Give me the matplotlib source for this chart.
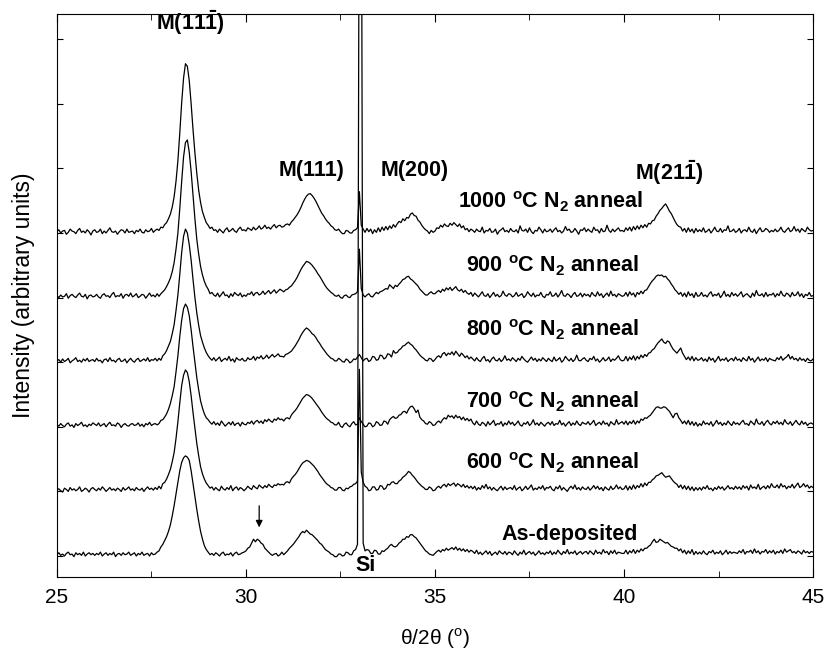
import numpy as np
import matplotlib
matplotlib.use("Agg")
import matplotlib.pyplot as plt
from matplotlib.ticker import MultipleLocator

plt.rcParams['font.family'] = ['Liberation Sans', 'DejaVu Sans']
plt.rcParams['mathtext.fontset'] = 'custom'
plt.rcParams['mathtext.rm'] = 'Liberation Sans'
plt.rcParams['mathtext.bf'] = 'Liberation Sans:bold'

# intensities, 0.05 deg steps from 25 to 45,
# one row per degree, counts above each trace's own baseline
as_dep = [
    2, 5, 1, 3, 0, 4, 6, 2, 3, -1, 5, 2, 4, 1, 6, 0, 3, 5, 2, 4,
    1, 4, 2, 6, 0, 3, 5, 1, 4, 2, 6, -1, 3, 4, 1, 5, 2, 3, 6, 1,
    3, 5, 0, 4, 2, 6, 1, 3, 4, 0, 5, 2, 3, 6, 8, 14, 18, 24, 30, 38,
    48, 62, 78, 96, 115, 132, 145, 152, 155, 153, 148, 132, 112, 92, 72, 54, 38, 26, 16, 10,
    6, 2, 4, 1, 5, 3, 0, 4, 6, 1, 3, 2, 5, 0, 4, 6, 2, 3, 5, 6,
    8, 12, 14, 20, 26, 22, 26, 24, 20, 18, 12, 9, 6, 3, 1, 3, 4, 0, 2, 6,
    2, 5, 8, 12, 15, 18, 22, 26, 30, 35, 38, 36, 40, 37, 34, 33, 30, 27, 24, 20,
    18, 14, 10, 8, 6, 3, 2, -1, -1, 3, 3, 0, 1, 6, 5, 2, 2, 8, 10, 18,
    1200, 1200, 20, 8, 10, 9, 4, 4, 9, 8, 3, 3, 8, 7, 10, 12, 16, 18, 15, 14,
    16, 20, 22, 26, 26, 30, 29, 33, 33, 30, 28, 24, 20, 16, 12, 8, 6, 3, 2, 1,
    4, 7, 9, 6, 10, 8, 12, 9, 11, 13, 10, 14, 9, 12, 8, 11, 7, 10, 6, 9,
    7, 4, 9, 3, 6, 2, 5, 8, 3, 7, 1, 4, 6, 2, 8, 5, 3, 7, 2, 6,
    5, 2, 8, 4, 1, 6, 3, 9, 2, 5, 7, 3, 6, 1, 4, 8, 3, 5, 2, 6,
    4, 8, 2, 6, 3, 9, 5, 2, 7, 4, 10, 3, 6, 4, 8, 2, 5, 7, 3, 6,
    7, 3, 8, 5, 2, 9, 4, 6, 3, 10, 5, 7, 2, 8, 4, 9, 3, 6, 5, 4,
    4, 9, 3, 8, 5, 10, 4, 9, 6, 11, 8, 12, 12, 15, 17, 22, 26, 21, 22, 26,
    24, 22, 20, 21, 18, 15, 14, 12, 12, 8, 11, 5, 9, 3, 8, 4, 10, 2, 7, 3,
    6, 3, 8, 4, 2, 7, 5, 9, 3, 6, 4, 8, 2, 5, 9, 3, 7, 4, 6, 5,
    4, 8, 5, 10, 3, 7, 6, 9, 4, 11, 5, 8, 3, 7, 6, 10, 4, 8, 5, 9,
    3, 7, 5, 9, 4, 11, 6, 8, 10, 5, 7, 4, 8, 6, 3, 9, 5, 7, 4, 7,
    6]

t600 = [
    2, 4, 1, -1, 5, 3, 0, 6, 2, 4, 1, 3, 7, 0, 2, 5, 3, -1, 4, 6,
    3, 1, 5, 2, 7, 4, 0, 3, 6, 2, 4, 1, 5, 3, 0, 6, 2, 4, 7, 2,
    4, 1, 6, 3, 2, 5, 0, 4, 7, 3, 5, 2, 6, 3, 8, 4, 12, 14, 19, 26,
    34, 46, 60, 82, 108, 137, 164, 180, 188, 184, 170, 148, 122, 98, 74, 55, 38, 27, 19, 13,
    9, 5, 7, 2, 6, 3, 1, 8, 4, 2, 6, 3, 9, 1, 5, 7, 2, 6, 4, 1,
    4, 8, 5, 3, 9, 6, 4, 10, 7, 5, 9, 6, 11, 8, 6, 10, 9, 12, 10, 11,
    10, 14, 15, 13, 19, 23, 26, 30, 35, 40, 44, 46, 48, 47, 45, 42, 39, 35, 31, 26,
    22, 18, 14, 11, 9, 6, 5, 2, 2, 6, 6, 2, 1, 5, 4, 7, 8, 11, 12, 16,
    189, 30, 14, 8, 6, 1, 2, 7, 7, 2, 3, 9, 8, 3, 5, 11, 10, 14, 15, 12,
    12, 16, 18, 22, 24, 27, 31, 29, 25, 22, 18, 14, 11, 8, 6, 3, 3, 7, 5, 1,
    2, 6, 8, 5, 9, 11, 7, 12, 9, 11, 13, 8, 12, 10, 7, 11, 6, 9, 5, 8,
    4, 8, 2, 6, 3, 9, 5, 11, 4, 7, 2, 6, 3, 1, 5, 8, 2, 7, 3, 5,
    6, 3, 9, 2, 5, 7, 1, 4, 8, 3, 6, 10, 2, 5, 3, 7, 4, 9, 2, 6,
    5, 8, 3, 1, 7, 4, 9, 2, 6, 3, 0, 5, 8, 4, 10, 3, 6, 2, 7, 4,
    3, 7, 2, 5, 9, 4, 8, 3, 6, 1, 7, 4, 2, 8, 3, 5, 10, 4, 7, 3,
    4, 9, 2, 8, 3, 10, 4, 9, 6, 12, 7, 13, 9, 14, 14, 18, 20, 24, 25, 27,
    29, 25, 22, 23, 24, 20, 16, 13, 11, 6, 10, 4, 9, 3, 8, 2, 7, 1, 6, 2,
    6, 2, 7, 4, 9, 3, 5, 1, 6, 3, 8, 4, 7, 2, 5, 9, 4, 6, 3, 8,
    4, 7, 3, 9, 5, 8, 2, 10, 5, 7, 4, 11, 3, 6, 8, 4, 9, 5, 12, 7,
    6, 10, 5, 12, 7, 9, 4, 8, 6, 11, 5, 9, 13, 6, 8, 12, 7, 10, 5, 8,
    6]

t700 = [
    3, 1, 5, 2, 0, 4, 6, 1, 3, -1, 5, 2, 4, 7, 1, 3, 0, 4, 2, 6,
    4, 2, 6, 1, 3, 5, 0, 4, 7, 2, 3, 1, 6, 4, -1, 3, 5, 2, 1, 4,
    5, 2, 3, 6, 1, 4, 0, 5, 3, 7, 2, 4, 5, 3, 5, 10, 11, 15, 20, 27,
    36, 48, 62, 85, 110, 140, 165, 183, 190, 185, 172, 150, 124, 100, 76, 57, 40, 29, 20, 14,
    11, 7, 4, 8, 3, 6, 2, 9, 5, 1, 4, 7, 3, 8, 2, 5, 6, 1, 7, 4,
    3, 7, 5, 9, 4, 8, 10, 6, 9, 5, 11, 8, 12, 9, 7, 12, 10, 14, 11, 12,
    9, 13, 14, 12, 18, 22, 25, 29, 34, 39, 44, 47, 50, 49, 47, 44, 40, 36, 32, 28,
    23, 19, 15, 12, 10, 7, 6, 3, 3, 7, 1, -1, 4, 6, 2, 0, 5, 8, 3, 4,
    14, 8, 4, 0, 1, 6, 5, 0, 2, 8, 6, 2, 3, 9, 8, 4, 11, 14, 16, 13,
    14, 18, 19, 23, 24, 21, 27, 31, 32, 28, 22, 26, 15, 11, 9, 5, 4, 8, 6, 2,
    3, 7, 9, 6, 11, 14, 12, 18, 15, 17, 13, 18, 14, 16, 11, 15, 10, 13, 9, 12,
    6, 3, 9, 4, 2, 7, 5, 1, 8, 3, 6, 10, 2, 5, 4, 8, 1, 6, 3, 9,
    4, 7, 2, 5, 9, 3, 1, 6, 4, 8, 2, 5, 11, 3, 6, 2, 7, 4, 1, 5,
    7, 3, 8, 2, 5, 4, 10, 3, 6, 1, 5, 8, 2, 6, 3, 9, 4, 2, 7, 5,
    4, 8, 3, 6, 10, 2, 5, 7, 3, 9, 4, 6, 1, 8, 5, 3, 11, 4, 6, 8,
    4, 9, 3, 8, 5, 10, 4, 9, 6, 12, 10, 14, 13, 16, 18, 22, 26, 30, 31, 29,
    29, 31, 30, 27, 24, 19, 14, 20, 21, 14, 10, 5, 9, 4, 10, 3, 8, 2, 7, 1,
    5, 2, 9, 4, 6, 3, 8, 1, 5, 10, 4, 7, 2, 6, 3, 9, 5, 2, 8, 4,
    6, 3, 7, 10, 4, 5, 2, 9, 6, 3, 12, 5, 4, 8, 2, 7, 10, 5, 3, 8,
    5, 9, 4, 7, 3, 11, 6, 4, 8, 2, 6, 10, 5, 3, 9, 4, 7, 2, 5, 6,
    4]

t800 = [
    2, 4, 0, 5, 1, 3, 6, -1, 2, 4, 7, 1, 3, 0, 5, 2, 6, 1, 3, 4,
    1, 6, 2, 3, -1, 4, 5, 1, 7, 2, 3, 0, 4, 6, 1, 2, 5, -1, 3, 6,
    2, 0, 4, 6, 1, 3, 5, 2, 7, 1, 4, 3, 6, 2, 6, 3, 10, 13, 18, 25,
    32, 44, 58, 80, 104, 136, 170, 195, 206, 200, 182, 158, 128, 100, 76, 57, 41, 31, 22, 15,
    10, 6, 3, 7, 2, 5, 8, 1, 4, 6, 3, 9, 2, 5, 0, 7, 4, 3, 6, 2,
    2, 7, 4, 5, 9, 3, 8, 6, 10, 5, 7, 11, 6, 9, 12, 8, 10, 13, 9, 9,
    8, 12, 13, 15, 17, 21, 25, 30, 35, 41, 46, 50, 53, 51, 48, 44, 42, 38, 33, 29,
    24, 20, 16, 12, 9, 6, 5, 2, 2, 6, 4, 1, 0, 5, 3, -1, 1, 5, 4, 8,
    12, 7, 2, 5, 6, 1, 3, 9, 8, 3, 4, 11, 10, 5, 7, 13, 12, 8, 18, 14,
    15, 19, 21, 25, 26, 29, 31, 28, 26, 22, 19, 15, 11, 8, 6, 3, 2, 6, 5, 1,
    4, 8, 10, 7, 13, 15, 10, 14, 12, 16, 11, 17, 13, 9, 14, 11, 7, 10, 5, 8,
    5, 2, 7, 3, 1, 6, 9, 2, 4, 0, 5, 8, 3, 2, 6, 1, 4, 10, 3, 5,
    2, 7, 4, 1, 6, 3, 9, 5, 2, 0, 4, 8, 3, 6, 1, 5, 2, 7, 4, 1,
    6, 3, 1, 8, 2, 4, 7, 0, 3, 9, 5, 2, 6, 1, 4, 11, 3, 2, 5, 7,
    3, 1, 6, 4, 9, 2, 5, 0, 3, 7, 2, 4, 8, 1, 5, 3, 6, 10, 4, 2,
    3, 9, 2, 8, 4, 10, 3, 9, 5, 11, 7, 12, 9, 14, 15, 19, 21, 26, 30, 33,
    36, 31, 29, 33, 31, 25, 20, 17, 14, 18, 22, 14, 9, 4, 8, 3, 9, 2, 7, 3,
    4, 7, 2, 5, 1, 8, 3, 6, 0, 4, 9, 2, 5, 3, 7, 1, 4, 6, 2, 8,
    3, 5, 1, 7, 4, 2, 9, 3, 6, 0, 4, 8, 2, 5, 3, 7, 1, 6, 4, 3,
    2, 7, 4, 9, 3, 6, 8, 12, 5, 9, 4, 6, 2, 7, 3, 5, 1, 6, 3, 2,
    5]

t900 = [
    3, 0, 4, 1, 2, 6, -1, 3, 5, 2, 0, 4, 7, 2, 1, 5, -2, 3, 4, 1,
    2, 5, 1, -1, 4, 6, 2, 3, 0, 5, 8, 1, 3, 2, 6, -1, 4, 5, 2, 7,
    1, 3, 6, 0, 2, 5, 4, -1, 3, 7, 2, 4, 1, 6, 2, 6, 9, 12, 17, 23,
    30, 40, 54, 75, 100, 138, 180, 218, 240, 244, 225, 195, 158, 122, 90, 67, 48, 35, 25, 18,
    13, 6, 8, 4, 2, 7, 1, 5, 9, 3, 4, 0, 6, 2, 8, 5, 3, 7, 1, 4,
    2, 6, 5, 9, 3, 7, 8, 4, 6, 10, 5, 8, 11, 6, 9, 12, 7, 10, 13, 11,
    9, 12, 13, 16, 18, 22, 26, 31, 37, 43, 48, 52, 56, 55, 53, 50, 46, 42, 37, 33,
    28, 23, 18, 14, 11, 8, 6, 3, 2, 4, 0, -1, 3, 4, 1, 0, 4, 5, 6, 9,
    75, 14, 4, 1, 4, 6, 2, 1, 5, 8, 6, 9, 10, 12, 14, 13, 20, 17, 14, 19,
    17, 21, 24, 28, 29, 32, 33, 29, 27, 24, 21, 18, 13, 10, 7, 4, 4, 7, 9, 6,
    6, 9, 11, 8, 13, 10, 15, 12, 16, 11, 14, 17, 12, 10, 13, 8, 11, 7, 5, 8,
    2, 7, 4, 1, 5, 9, 3, 2, 6, 0, 4, 8, 2, 5, 1, 3, 10, 4, 2, 6,
    5, 1, 3, 8, 2, 4, 6, 0, 3, 9, 5, 2, 7, 1, 4, 3, 8, 2, 0, 5,
    4, 9, 2, 3, 7, 1, 5, 11, 3, 2, 6, 4, 0, 5, 8, 2, 3, 7, 1, 6,
    3, 5, 1, 8, 4, 2, 9, 3, 6, 0, 4, 7, 2, 10, 3, 5, 1, 6, 4, 2,
    3, 8, 2, 9, 4, 7, 1, 8, 5, 10, 6, 11, 12, 17, 22, 26, 29, 33, 35, 34,
    35, 32, 33, 29, 26, 21, 17, 12, 9, 5, 8, 2, 7, 1, 9, 3, 6, 0, 8, 2,
    3, 8, 2, 4, 1, 6, 9, 2, 5, 3, 7, 0, 4, 10, 2, 5, 1, 8, 3, 6,
    2, 5, 9, 1, 4, 6, 3, 0, 7, 2, 11, 4, 3, 6, 1, 8, 2, 5, 4, 7,
    1, 6, 3, 10, 4, 2, 7, 5, 1, 8, 3, 4, 9, 2, 6, 0, 5, 3, 8, 2,
    3]

t1000 = [
    2, 5, 0, 3, 4, -2, 1, 6, 3, 2, -1, 4, 7, 1, 3, 0, 5, 2, -3, 3,
    5, 1, 2, 6, -1, 3, 0, 4, 8, 2, 1, 3, -2, 2, 5, 4, 0, 6, 1, 2,
    3, -1, 4, 2, 6, 1, 0, 5, 2, 3, 7, 1, 4, 6, 4, 9, 8, 13, 16, 22,
    29, 40, 56, 80, 112, 155, 202, 240, 262, 258, 236, 200, 160, 124, 92, 66, 47, 33, 24, 16,
    12, 7, 9, 4, 5, 1, 6, 3, 0, 5, 8, 2, 4, 7, 3, 1, 6, 9, 4, 5,
    3, 8, 6, 4, 9, 5, 7, 11, 6, 8, 12, 7, 9, 6, 10, 13, 8, 11, 12, 9,
    10, 13, 14, 12, 17, 20, 24, 28, 33, 39, 46, 52, 57, 60, 61, 58, 54, 49, 43, 37,
    31, 27, 22, 18, 15, 11, 9, 5, 4, 6, 2, -1, -1, 4, 3, 0, 0, 4, 5, 8,
    64, 12, 6, 1, 7, 2, 6, -1, 5, 1, 8, 2, 9, 4, 10, 5, 11, 7, 13, 9,
    14, 18, 16, 22, 19, 24, 23, 29, 31, 27, 26, 20, 17, 12, 8, 5, 3, -1, 4, 1,
    3, 8, 7, 12, 9, 14, 11, 10, 15, 12, 16, 13, 10, 14, 8, 11, 5, 7, 2, 6,
    4, 1, 6, 3, 2, 9, 0, 4, 3, 7, 1, 2, 6, -2, 3, 5, 8, 2, 4, 1,
    7, 3, 2, 5, 0, 11, 4, 3, 6, 1, 8, 2, -1, 4, 3, 9, 5, 0, 6, 2,
    3, 6, 1, 5, 8, 2, 4, 0, 3, 10, 4, 6, 1, 2, 7, 3, -2, 5, 4, 8,
    2, 6, 3, 1, 9, 4, 5, 0, 7, 2, 3, 12, 4, 1, 6, 2, 5, 8, 3, 4,
    2, 8, 4, 9, 3, 10, 5, 11, 6, 12, 8, 13, 9, 15, 14, 19, 20, 26, 30, 35,
    38, 42, 45, 40, 34, 30, 24, 18, 13, 10, 9, 3, 7, 1, 8, 2, 6, 0, 7, 2,
    5, 2, 8, 1, 3, 6, 0, 4, 9, 3, 2, 7, 1, 5, 4, 11, 2, 3, 6, 1,
    3, 7, 0, 4, 5, 2, 9, 3, 1, 6, -1, 4, 8, 2, 3, 7, 5, 1, 4, 2,
    6, 2, 4, 9, 3, 1, 5, 8, 2, 4, 10, 3, 6, 1, 7, 4, 2, 9, 5, 3,
    4]

traces = [as_dep, t600, t700, t800, t900, t1000]
offsets = [0, 100, 200, 300, 400, 500]
labels = ['As-deposited',
          r'600 $^{\mathbf{o}}$C N$_{\mathbf{2}}$ anneal',
          r'700 $^{\mathbf{o}}$C N$_{\mathbf{2}}$ anneal',
          r'800 $^{\mathbf{o}}$C N$_{\mathbf{2}}$ anneal',
          r'900 $^{\mathbf{o}}$C N$_{\mathbf{2}}$ anneal',
          r'1000 $^{\mathbf{o}}$C N$_{\mathbf{2}}$ anneal']
label_pos = [(36.76, 33), (35.81, 144), (35.81, 238), (35.81, 350),
             (35.81, 449), (35.6, 548)]

fig = plt.figure(figsize=(8.25, 6.5), dpi=100)
ax = fig.add_axes([0.069, 0.1123, 0.9165, 0.8662])

for y, off in zip(traces, offsets):
    x = np.linspace(25, 45, len(y))
    ax.plot(x, np.array(y) + off, color='black', lw=0.9)

for txt, (x, y) in zip(labels, label_pos):
    ax.text(x, y, txt, fontsize=15.5, fontweight='bold', ha='left', va='center')

peak_names = [r'M(11$\mathbf{\bar{1}}$)', 'M(111)', 'M(200)', r'M(21$\mathbf{\bar{1}}$)']
peak_pos = [(28.52, 826), (31.74, 597), (34.46, 597), (41.2, 594)]
for txt, (x, y) in zip(peak_names, peak_pos):
    ax.text(x, y, txt, fontsize=15.5, fontweight='bold', ha='center', va='center')

ax.text(33.17, -15, 'Si', fontsize=15.5, fontweight='bold', ha='center', va='center')
ax.annotate('', xy=(30.35, 40), xytext=(30.35, 82),
            arrowprops=dict(arrowstyle='-|>', color='black', lw=0.9,
                            mutation_scale=10))

ax.set_xlim(25, 45)
ax.set_ylim(-32.5, 839)
ax.xaxis.set_major_locator(MultipleLocator(5))
ax.xaxis.set_minor_locator(MultipleLocator(2.5))
ax.yaxis.set_major_locator(MultipleLocator(100))
ax.tick_params(axis='x', which='both', direction='in', top=True, labelsize=15, pad=8)
ax.tick_params(axis='x', which='major', length=6)
ax.tick_params(axis='x', which='minor', length=4)
ax.tick_params(axis='y', which='major', direction='in', right=True, length=4,
               labelleft=False)
ax.set_xlabel('θ/2θ ($^{\\rm o}$)', fontsize=15, labelpad=14)
ax.set_ylabel('Intensity (arbitrary units)', fontsize=16.5, labelpad=16)

fig.savefig('out.png', dpi=100)
